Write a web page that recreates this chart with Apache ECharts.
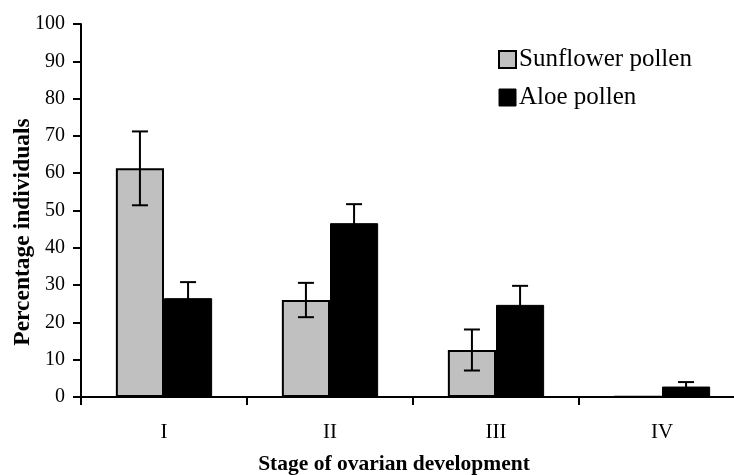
<!DOCTYPE html>
<html>
<head>
<meta charset="utf-8">
<script src="https://cdn.jsdelivr.net/npm/echarts@6/dist/echarts.min.js"></script>
<style>
  html, body { margin: 0; padding: 0; background: #fff; overflow: hidden; }
  #chart { width: 745px; height: 475px; }
</style>
</head>
<body>
<div id="chart"></div>
<script>
// data
var categories = ['I', 'II', 'III', 'IV'];
var sunflower = [61.3, 26.0, 12.6, 0.2];
var sunflowerErr = [9.9, 4.6, 5.5, 0];
var aloe = [26.5, 46.6, 24.7, 2.8];
var aloeErr = [4.3, 5.1, 5.1, 1.2];
var yTicks = [0, 10, 20, 30, 40, 50, 60, 70, 80, 90, 100];

var font = '"Liberation Serif", "Times New Roman", serif';
var gapRatio = 0.42;

// builds [catIndex, low, high] for the custom error bar series
function errData(vals, errs) {
  var res = [];
  vals.forEach(function (v, i) {
    if (errs[i] > 0) res.push([i, v - errs[i], v + errs[i]]);
  });
  return res;
}

function errBars(side) {
  return function (params, api) {
    var i = api.value(0);
    var lo = api.coord([i, api.value(1)]);
    var hi = api.coord([i, api.value(2)]);
    var catW = api.size([1, 0])[0];
    var bw = catW * (1 - gapRatio) / 2;
    var x = lo[0] + side * bw / 2;
    var cap = 8;
    var st = { stroke: '#000', lineWidth: 2 };
    return {
      type: 'group',
      children: [
        { type: 'line', shape: { x1: x, y1: lo[1], x2: x, y2: hi[1] }, style: st },
        { type: 'line', shape: { x1: x - cap, y1: hi[1], x2: x + cap, y2: hi[1] }, style: st },
        { type: 'line', shape: { x1: x - cap, y1: lo[1], x2: x + cap, y2: lo[1] }, style: st }
      ]
    };
  };
}

var option = {
  animation: false,
  backgroundColor: '#fff',
  grid: { left: 81, right: 0, top: 24, bottom: 78 },
  legend: {
    orient: 'vertical',
    left: 493,
    top: 42,
    itemWidth: 17,
    itemHeight: 17,
    itemGap: 13,
    icon: 'rect',
    textStyle: { fontFamily: font, fontSize: 25, color: '#000', padding: [0, 0, 0, -2] },
    data: [
      { name: 'Sunflower pollen', itemStyle: { color: '#c0c0c0', borderColor: '#000', borderWidth: 2 } },
      { name: 'Aloe pollen', itemStyle: { color: '#000', borderColor: '#000', borderWidth: 1 } }
    ]
  },
  xAxis: {
    type: 'category',
    data: categories,
    axisLine: { lineStyle: { color: '#000', width: 2 } },
    axisTick: { show: true, length: 8, lineStyle: { color: '#000', width: 2 } },
    axisLabel: { fontFamily: font, fontSize: 21, color: '#000', margin: 25 }
  },
  yAxis: {
    type: 'value',
    min: yTicks[0],
    max: yTicks[yTicks.length - 1],
    interval: 10,
    splitLine: { show: false },
    axisLine: { show: true, lineStyle: { color: '#000', width: 2 } },
    axisTick: { show: true, length: 8, lineStyle: { color: '#000', width: 2 } },
    axisLabel: { fontFamily: font, fontSize: 20, color: '#000', margin: 16 }
  },
  graphic: [
    {
      type: 'text',
      x: 394,
      y: 464,
      style: {
        text: 'Stage of ovarian development',
        fontFamily: font, fontSize: 21.5, fontWeight: 'bold', fill: '#000',
        align: 'center', verticalAlign: 'middle'
      }
    },
    {
      type: 'text',
      x: 23,
      y: 232,
      rotation: Math.PI / 2,
      style: {
        text: 'Percentage individuals',
        fontFamily: font, fontSize: 23.5, fontWeight: 'bold', fill: '#000',
        align: 'center', verticalAlign: 'middle'
      }
    }
  ],
  series: [
    {
      name: 'Sunflower pollen',
      type: 'bar',
      data: sunflower,
      barGap: '0%',
      barCategoryGap: (gapRatio * 100) + '%',
      itemStyle: { color: '#c0c0c0', borderColor: '#000', borderWidth: 2 }
    },
    {
      name: 'Aloe pollen',
      type: 'bar',
      data: aloe,
      itemStyle: { color: '#000', borderColor: '#000', borderWidth: 1 }
    },
    {
      type: 'custom',
      renderItem: errBars(-1),
      data: errData(sunflower, sunflowerErr),
      encode: { x: 0, y: [1, 2] },
      z: 10
    },
    {
      type: 'custom',
      renderItem: errBars(1),
      data: errData(aloe, aloeErr),
      encode: { x: 0, y: [1, 2] },
      z: 10
    }
  ]
};

var myChart = echarts.init(document.getElementById('chart'));
myChart.setOption(option);
</script>
</body>
</html>
